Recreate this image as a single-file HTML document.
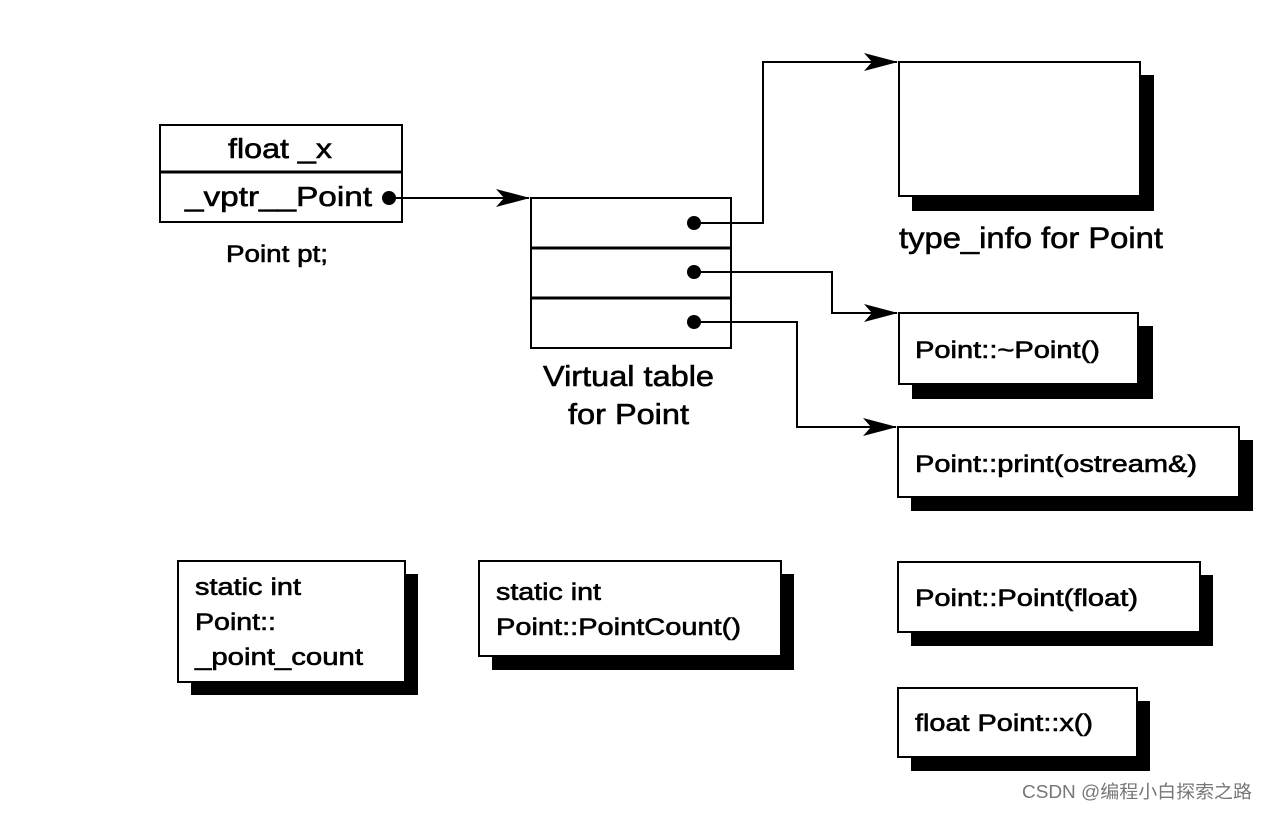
<!DOCTYPE html>
<html><head><meta charset="utf-8"><style>
body{margin:0;background:#fff;}
svg text{font-family:"Liberation Sans",Arial,sans-serif;fill:#000;stroke:#000;stroke-width:0.6;}
</style></head><body>
<svg width="1268" height="810" viewBox="0 0 1268 810" xmlns="http://www.w3.org/2000/svg">
<defs><marker id="a" markerWidth="34" markerHeight="18" refX="33" refY="9" orient="auto" markerUnits="userSpaceOnUse"><path d="M0,0 L34,9 L0,18 L8,9 Z" fill="#000"/></marker></defs>
<g stroke="#000" stroke-width="2" fill="#fff">
<g fill="#000" stroke="none">
<rect x="912" y="75" width="242" height="136"/>
<rect x="912" y="326" width="241" height="73"/>
<rect x="911" y="440" width="342" height="71"/>
<rect x="911" y="575" width="302" height="71"/>
<rect x="911" y="701" width="239" height="70"/>
<rect x="191" y="574" width="227" height="121"/>
<rect x="492" y="574" width="302" height="96"/>
</g>
<rect x="899" y="62" width="241" height="134"/>
<rect x="899" y="313" width="239" height="71"/>
<rect x="898" y="427" width="341" height="70"/>
<rect x="898" y="562" width="302" height="70"/>
<rect x="898" y="688" width="239" height="69"/>
<rect x="178" y="561" width="227" height="121"/>
<rect x="479" y="561" width="302" height="95"/>
<rect x="160" y="125" width="242" height="97"/>
<line x1="160" y1="172" x2="402" y2="172" stroke-width="3"/>
<rect x="531" y="198" width="200" height="150"/>
<line x1="531" y1="248" x2="731" y2="248" stroke-width="3"/>
<line x1="531" y1="298" x2="731" y2="298" stroke-width="3"/>
<g fill="none">
<polyline points="389,198 529,198" marker-end="url(#a)"/>
<polyline points="694,223 763,223 763,62 897,62" marker-end="url(#a)"/>
<polyline points="694,272 832,272 832,313 897,313" marker-end="url(#a)"/>
<polyline points="694,322 797,322 797,427 896,427" marker-end="url(#a)"/>
</g>
<g fill="#000" stroke="none">
<circle cx="389" cy="198" r="7"/>
<circle cx="694" cy="223" r="7"/>
<circle cx="694" cy="272" r="7"/>
<circle cx="694" cy="322" r="7"/>
</g>
</g>
<g font-size="28">
<text x="228" y="158" textLength="104" lengthAdjust="spacingAndGlyphs">float _x</text>
<text x="185" y="206" textLength="187" lengthAdjust="spacingAndGlyphs">_vptr__Point</text>
</g>
<text x="226" y="262" font-size="24" textLength="102" lengthAdjust="spacingAndGlyphs">Point pt;</text>
<text x="543" y="386" font-size="29" textLength="171" lengthAdjust="spacingAndGlyphs">Virtual table</text>
<text x="568" y="424" font-size="29" textLength="121" lengthAdjust="spacingAndGlyphs">for Point</text>
<text x="899" y="248" font-size="30" textLength="264" lengthAdjust="spacingAndGlyphs">type_info for Point</text>
<g font-size="24">
<text x="915" y="358" textLength="185" lengthAdjust="spacingAndGlyphs">Point::~Point()</text>
<text x="915" y="472" textLength="282" lengthAdjust="spacingAndGlyphs">Point::print(ostream&amp;)</text>
<text x="915" y="606" textLength="223" lengthAdjust="spacingAndGlyphs">Point::Point(float)</text>
<text x="915" y="731" textLength="178" lengthAdjust="spacingAndGlyphs">float Point::x()</text>
<text x="195" y="595" textLength="106" lengthAdjust="spacingAndGlyphs">static int</text>
<text x="195" y="630" textLength="81" lengthAdjust="spacingAndGlyphs">Point::</text>
<text x="195" y="665" textLength="168" lengthAdjust="spacingAndGlyphs">_point_count</text>
<text x="496" y="600" textLength="105" lengthAdjust="spacingAndGlyphs">static int</text>
<text x="496" y="635" textLength="245" lengthAdjust="spacingAndGlyphs">Point::PointCount()</text>
</g>
<text x="1022" y="798" font-size="18" style="font-family:'Liberation Sans','Noto Sans CJK SC',sans-serif;fill:#777;stroke:none" textLength="230" lengthAdjust="spacingAndGlyphs">CSDN @编程小白探索之路</text>
</svg>
</body></html>
